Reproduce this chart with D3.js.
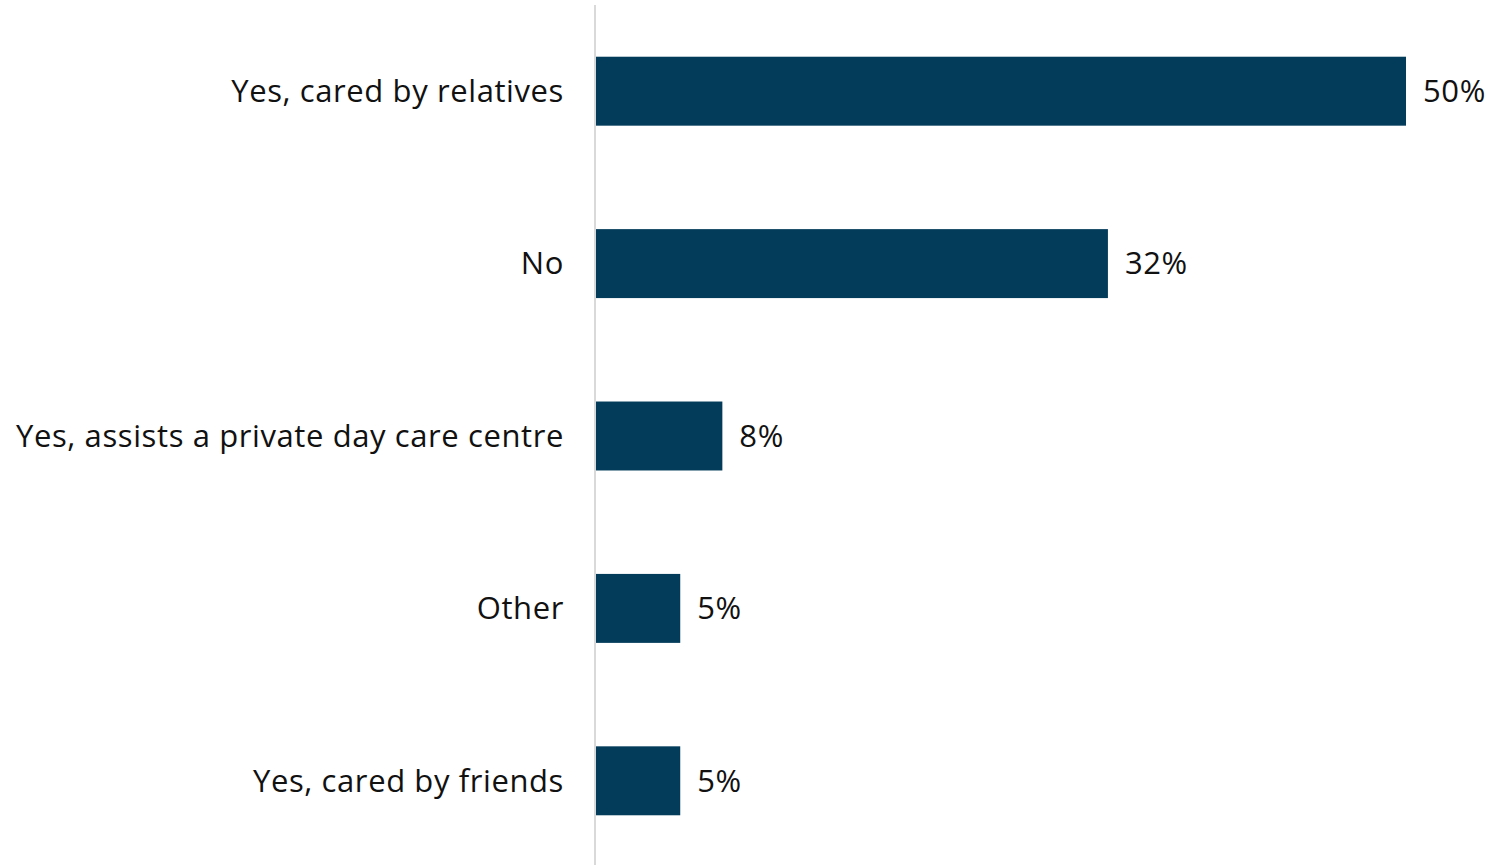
<!DOCTYPE html>
<html>
<head>
<meta charset="utf-8">
<script src="https://cdn.jsdelivr.net/npm/d3@7"></script>
<style>
  body { margin: 0; background: #fff; }
  text { font-family: "Open Sans", sans-serif; fill: #111; letter-spacing: 0.6px; }
</style>
</head>
<body>
<div id="chart-area"></div>
<script>
// categories and shares (%)
const categories = ["Yes, cared by relatives", "No", "Yes, assists a private day care centre", "Other", "Yes, cared by friends"];
const values = [50, 31.6, 7.8, 5.2, 5.2];
const valueLabels = ["50%", "32%", "8%", "5%", "5%"];

const W = 1501, H = 865;
const data = categories.map((c, i) => ({name: c, value: values[i], label: valueLabels[i]}));

var svg = d3.select("#chart-area").append("svg")
            .attr("width", W)
            .attr("height", H);

const x = d3.scaleLinear().domain([0, 50]).range([596, 1406]);

const y = d3.scaleBand()
            .domain(categories)
            .range([5, 867])
            .paddingInner(0.6)
            .paddingOuter(0.3);

// bars
svg.selectAll("rect.bar").data(data).enter().append("rect")
    .attr("class", "bar")
    .attr("x", x(0))
    .attr("y", d => y(d.name))
    .attr("width", d => x(d.value) - x(0))
    .attr("height", y.bandwidth())
    .attr("fill", "#033c5a");

// axis line
svg.append("line")
    .attr("x1", x(0) - 1).attr("x2", x(0) - 1)
    .attr("y1", 5).attr("y2", H)
    .attr("stroke", "#d9d9d9")
    .attr("stroke-width", 2);

// category labels
svg.selectAll("text.cat").data(data).enter().append("text")
    .attr("class", "cat")
    .attr("x", 564)
    .attr("y", d => y(d.name) + y.bandwidth() / 2)
    .attr("dy", "0.35em")
    .attr("text-anchor", "end")
    .style("font-size", "31px")
    .text(d => d.name);

// value labels
svg.selectAll("text.val").data(data).enter().append("text")
    .attr("class", "val")
    .attr("x", d => x(d.value) + 17)
    .attr("y", d => y(d.name) + y.bandwidth() / 2)
    .attr("dy", "0.35em")
    .style("font-size", "31px")
    .text(d => d.label);
</script>
</body>
</html>
